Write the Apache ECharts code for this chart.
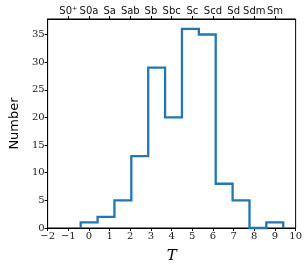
<!DOCTYPE html>
<html><head><meta charset="utf-8">
<script src="https://cdn.jsdelivr.net/npm/echarts@6/dist/echarts.min.js"></script>
<style>html,body{margin:0;padding:0;background:#fff}#c{width:305px;height:269px}</style>
</head><body><div id="c"></div>
<script>
// Bin edges (T) and counts
const binEdges = [-0.4, 0.417, 1.233, 2.05, 2.867, 3.683, 4.5, 5.317, 6.133, 6.95, 7.767, 8.583, 9.4];
const counts = [1, 2, 5, 13, 29, 20, 36, 35, 8, 5, 0, 1];
const bottomTicks = [-2, -1, 0, 1, 2, 3, 4, 5, 6, 7, 8, 9, 10];
const topTickValues = [-1, 0, 1, 2, 3, 4, 5, 6, 7, 8, 9];
const topTickLabels = ['S0⁺', 'S0a', 'Sa', 'Sab', 'Sb', 'Sbc', 'Sc', 'Scd', 'Sd', 'Sdm', 'Sm'];
const yTicks = [0, 5, 10, 15, 20, 25, 30, 35];

const stepData = [[binEdges[0], 0]];
for (let i = 0; i < counts.length; i++) stepData.push([binEdges[i + 1], counts[i]]);
stepData.push([binEdges[binEdges.length - 1], 0]);

const serif = 'DejaVu Serif';
const chart = echarts.init(document.getElementById('c'), null, {renderer: 'canvas'});
chart.setOption({
  animation: false,
  grid: {left: 36, right: 9, top: 19, bottom: 36, show: true, borderColor: '#000', borderWidth: 1, backgroundColor: 'transparent'},
  xAxis: [
    {type: 'value', min: -2, max: 10, interval: 1, position: 'bottom',
     axisLine: {show: true, onZero: false, lineStyle: {color: '#000', width: 1}},
     axisTick: {show: true, length: 3, lineStyle: {color: '#000'}, customValues: bottomTicks},
     axisLabel: {color: '#222', fontFamily: serif, fontSize: 10, margin: 3,
       customValues: bottomTicks,
       formatter: v => String(v).replace('-', '\u2212')},
     splitLine: {show: false},
     name: 'T', nameLocation: 'middle', nameGap: 21,
     nameTextStyle: {fontFamily: serif, fontStyle: 'italic', fontSize: 15, color: '#000'}},
    {type: 'value', min: -2, max: 10, interval: 1, position: 'top',
     axisLine: {show: true, onZero: false, lineStyle: {color: '#000', width: 1}},
     axisTick: {show: true, length: 3, lineStyle: {color: '#000'}, customValues: topTickValues},
     axisLabel: {color: '#111', fontFamily: 'DejaVu Sans', fontSize: 10, margin: 3,
       customValues: topTickValues,
       formatter: v => topTickLabels[topTickValues.indexOf(Math.round(v))] || ''},
     splitLine: {show: false}}
  ],
  yAxis: {type: 'value', min: 0, max: 37.8, interval: 5,
    axisLine: {show: true, onZero: false, lineStyle: {color: '#000', width: 1}},
    axisTick: {show: true, length: 3, lineStyle: {color: '#000'}, customValues: yTicks},
    axisLabel: {color: '#222', fontFamily: serif, fontSize: 10, margin: 3, customValues: yTicks},
    splitLine: {show: false},
    name: 'Number', nameLocation: 'middle', nameGap: 22,
    nameTextStyle: {fontFamily: 'DejaVu Sans', fontSize: 13, color: '#000'}},
  series: [{
    type: 'line', xAxisIndex: 0, step: 'start', data: stepData,
    showSymbol: false, symbol: 'none',
    lineStyle: {color: '#1f77b4', width: 2.3, join: 'miter'}, clip: false
  }]
});
</script></body></html>
